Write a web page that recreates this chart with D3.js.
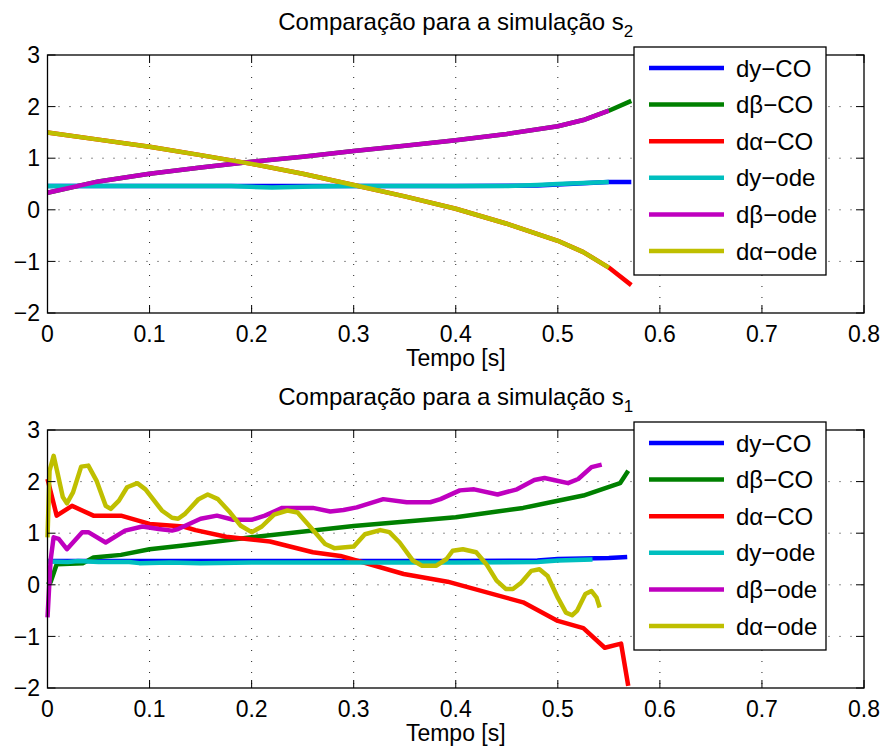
<!DOCTYPE html>
<html lang="pt">
<head>
<meta charset="UTF-8">
<title>Comparação s2 / s1</title>
<style>
    body { margin: 0; background: #fff; }
    svg { display: block; font-family: "Liberation Sans", Arial, Helvetica, sans-serif; }
</style>
</head>
<body>
<svg id="chart" width="884" height="754"></svg>
<script src="https://d3js.org/d3.v7.min.js"></script>
<script>
// tick values and labels
var xTicks = [0, 0.1, 0.2, 0.3, 0.4, 0.5, 0.6, 0.7, 0.8];
var yTicks = [-2, -1, 0, 1, 2, 3];
var seriesNames = ['dy\u2212CO', 'd\u03b2\u2212CO', 'd\u03b1\u2212CO', 'dy\u2212ode', 'd\u03b2\u2212ode', 'd\u03b1\u2212ode'];
var seriesColors = ['#0000ff', '#008000', '#ff0000', '#00bfbf', '#bf00bf', '#bfbf00'];

// simulation s2 (top panel), [time, value]
var s2_dyCO = [[0, 0.46], [0.1, 0.46], [0.2, 0.46], [0.3, 0.46], [0.4, 0.46], [0.48, 0.47], [0.52, 0.51], [0.55, 0.54], [0.572, 0.54]];
var s2_dbCO = [[0, 0.33], [0.05, 0.55], [0.1, 0.7], [0.15, 0.82], [0.2, 0.93], [0.25, 1.03], [0.3, 1.14], [0.35, 1.24], [0.4, 1.35], [0.45, 1.47], [0.5, 1.62], [0.525, 1.74], [0.55, 1.92], [0.572, 2.11]];
var s2_daCO = [[0, 1.5], [0.05, 1.36], [0.1, 1.22], [0.15, 1.06], [0.2, 0.89], [0.25, 0.7], [0.3, 0.48], [0.35, 0.26], [0.4, 0.02], [0.45, -0.27], [0.5, -0.6], [0.525, -0.82], [0.55, -1.12], [0.572, -1.46]];
var s2_dyOde = [[0, 0.46], [0.1, 0.46], [0.18, 0.46], [0.22, 0.43], [0.26, 0.45], [0.3, 0.46], [0.4, 0.46], [0.45, 0.46], [0.48, 0.48], [0.5, 0.5], [0.55, 0.54]];
var s2_dbOde = [[0, 0.33], [0.05, 0.55], [0.1, 0.7], [0.15, 0.82], [0.2, 0.93], [0.25, 1.03], [0.3, 1.14], [0.35, 1.24], [0.4, 1.35], [0.45, 1.47], [0.5, 1.62], [0.525, 1.74], [0.55, 1.92]];
var s2_daOde = [[0, 1.5], [0.05, 1.36], [0.1, 1.22], [0.15, 1.06], [0.2, 0.89], [0.25, 0.7], [0.3, 0.48], [0.35, 0.26], [0.4, 0.02], [0.45, -0.27], [0.5, -0.6], [0.525, -0.82], [0.55, -1.12]];

// simulation s1 (bottom panel), [time, value]
var s1_dyCO = [[0, 0.46], [0.1, 0.46], [0.2, 0.46], [0.3, 0.46], [0.4, 0.46], [0.48, 0.47], [0.5, 0.5], [0.55, 0.52], [0.568, 0.54]];
var s1_dbCO = [[0, 0.0], [0.003, 0.05], [0.009, 0.4], [0.035, 0.42], [0.045, 0.53], [0.072, 0.58], [0.1, 0.69], [0.133, 0.76], [0.2, 0.92], [0.3, 1.14], [0.4, 1.31], [0.466, 1.49], [0.5, 1.63], [0.525, 1.73], [0.561, 1.97], [0.569, 2.21]];
var s1_daCO = [[0, 2.05], [0.009, 1.34], [0.024, 1.53], [0.045, 1.34], [0.072, 1.34], [0.1, 1.18], [0.133, 1.13], [0.145, 1.06], [0.175, 0.93], [0.218, 0.84], [0.26, 0.63], [0.287, 0.56], [0.349, 0.21], [0.392, 0.06], [0.466, -0.34], [0.5, -0.7], [0.525, -0.84], [0.546, -1.22], [0.562, -1.14], [0.569, -1.96]];
var s1_dyOde = [[0, 0.45], [0.02, 0.44], [0.03, 0.46], [0.05, 0.44], [0.08, 0.44], [0.09, 0.42], [0.12, 0.43], [0.15, 0.42], [0.2, 0.43], [0.3, 0.43], [0.4, 0.43], [0.48, 0.44], [0.5, 0.47], [0.534, 0.49]];
var s1_dbOde = [[0, -0.63], [0.003, 0.47], [0.006, 0.92], [0.011, 0.89], [0.019, 0.69], [0.034, 1.02], [0.04, 1.02], [0.057, 0.82], [0.076, 1.05], [0.093, 1.13], [0.109, 1.08], [0.122, 1.05], [0.128, 1.08], [0.15, 1.28], [0.166, 1.34], [0.182, 1.26], [0.2, 1.26], [0.213, 1.34], [0.23, 1.49], [0.26, 1.49], [0.277, 1.42], [0.29, 1.45], [0.303, 1.5], [0.329, 1.66], [0.352, 1.6], [0.375, 1.6], [0.385, 1.66], [0.404, 1.83], [0.418, 1.85], [0.441, 1.75], [0.46, 1.85], [0.477, 2.03], [0.487, 2.07], [0.496, 2.03], [0.51, 1.97], [0.52, 2.05], [0.533, 2.28], [0.543, 2.33]];
var s1_daOde = [[0, 0.92], [0.002, 2.21], [0.006, 2.5], [0.01, 2.15], [0.015, 1.7], [0.019, 1.58], [0.025, 1.79], [0.033, 2.29], [0.04, 2.31], [0.048, 2.02], [0.057, 1.53], [0.062, 1.47], [0.07, 1.63], [0.078, 1.89], [0.088, 1.97], [0.096, 1.85], [0.112, 1.44], [0.122, 1.3], [0.128, 1.28], [0.135, 1.38], [0.148, 1.66], [0.157, 1.75], [0.167, 1.66], [0.179, 1.4], [0.189, 1.15], [0.2, 1.02], [0.21, 1.13], [0.222, 1.36], [0.235, 1.44], [0.245, 1.4], [0.258, 1.11], [0.272, 0.79], [0.281, 0.71], [0.3, 0.74], [0.311, 0.98], [0.326, 1.06], [0.335, 1.02], [0.345, 0.82], [0.358, 0.47], [0.367, 0.37], [0.381, 0.37], [0.391, 0.5], [0.397, 0.66], [0.407, 0.69], [0.42, 0.63], [0.43, 0.4], [0.44, 0.08], [0.449, -0.08], [0.456, -0.08], [0.464, 0.04], [0.474, 0.27], [0.482, 0.3], [0.49, 0.17], [0.5, -0.25], [0.508, -0.54], [0.514, -0.59], [0.519, -0.5], [0.527, -0.18], [0.533, -0.12], [0.538, -0.25], [0.541, -0.44]];

var svg = d3.select('#chart');

function drawPanel(top, titleSub, series) {
    var left = 47.5, right = 864, bottom = top + 258;

    var x = d3.scaleLinear().domain([0, 0.8]).range([left, right]);
    var y = d3.scaleLinear().domain([-2, 3]).range([bottom, top]);

    var g = svg.append('g');

    // dotted grid
    xTicks.slice(1, -1).forEach(function(t) {
        g.append('line')
            .attr('x1', x(t)).attr('x2', x(t))
            .attr('y1', top).attr('y2', bottom)
            .attr('stroke', '#222').attr('stroke-width', 1)
            .attr('stroke-dasharray', '1,10');
    });
    yTicks.slice(1, -1).forEach(function(v) {
        g.append('line')
            .attr('x1', left).attr('x2', right)
            .attr('y1', y(v)).attr('y2', y(v))
            .attr('stroke', '#222').attr('stroke-width', 1)
            .attr('stroke-dasharray', '1,10');
    });

    // curves
    var line = d3.line()
        .x(function(d) { return x(d[0]); })
        .y(function(d) { return y(d[1]); });

    series.forEach(function(s, i) {
        g.append('path')
            .datum(s)
            .attr('d', line)
            .attr('fill', 'none')
            .attr('stroke', seriesColors[i])
            .attr('stroke-width', 4.5)
            .attr('stroke-linejoin', 'round');
    });

    // axes box
    g.append('rect')
        .attr('x', left).attr('y', top)
        .attr('width', right - left).attr('height', bottom - top)
        .attr('fill', 'none').attr('stroke', '#000').attr('stroke-width', 1.3);

    // inward ticks on all sides
    var tl = 8;
    xTicks.forEach(function(t) {
        g.append('line').attr('x1', x(t)).attr('x2', x(t)).attr('y1', bottom).attr('y2', bottom - tl).attr('stroke', '#000');
        g.append('line').attr('x1', x(t)).attr('x2', x(t)).attr('y1', top).attr('y2', top + tl).attr('stroke', '#000');
        g.append('text')
            .attr('x', x(t)).attr('y', bottom + 29)
            .attr('text-anchor', 'middle')
            .attr('font-size', 23)
            .text(d3.format('')(t));
    });
    yTicks.forEach(function(v) {
        g.append('line').attr('x1', left).attr('x2', left + tl).attr('y1', y(v)).attr('y2', y(v)).attr('stroke', '#000');
        g.append('line').attr('x1', right).attr('x2', right - tl).attr('y1', y(v)).attr('y2', y(v)).attr('stroke', '#000');
        g.append('text')
            .attr('x', 40).attr('y', y(v))
            .attr('dy', '0.36em')
            .attr('text-anchor', 'end')
            .attr('font-size', 23)
            .text(v < 0 ? '\u2212' + Math.abs(v) : v);
    });

    // x label
    g.append('text')
        .attr('x', (left + right) / 2).attr('y', bottom + 53)
        .attr('text-anchor', 'middle')
        .attr('font-size', 23)
        .text('Tempo [s]');

    // title with subscript
    var title = g.append('text')
        .attr('x', (left + right) / 2).attr('y', top - 25)
        .attr('text-anchor', 'middle')
        .attr('font-size', 24);
    title.append('tspan').text('Comparação para a simulação s');
    title.append('tspan').attr('dy', 7).attr('font-size', 17).text(titleSub);

    // legend
    var lx = 634, ly = top - 8, lw = 192, lh = 228;
    var leg = g.append('g');
    leg.append('rect')
        .attr('x', lx).attr('y', ly).attr('width', lw).attr('height', lh)
        .attr('fill', '#fff').attr('stroke', '#000').attr('stroke-width', 1.3);
    seriesNames.forEach(function(name, i) {
        var ry = ly + 21 + i * 36.6;
        leg.append('line')
            .attr('x1', lx + 15).attr('x2', lx + 90)
            .attr('y1', ry).attr('y2', ry)
            .attr('stroke', seriesColors[i]).attr('stroke-width', 4.5);
        leg.append('text')
            .attr('x', lx + 102).attr('y', ry)
            .attr('dy', '0.36em')
            .attr('font-size', 24)
            .text(name);
    });
}

drawPanel(55, '2', [s2_dyCO, s2_dbCO, s2_daCO, s2_dyOde, s2_dbOde, s2_daOde]);
drawPanel(430, '1', [s1_dyCO, s1_dbCO, s1_daCO, s1_dyOde, s1_dbOde, s1_daOde]);
</script>
</body>
</html>
